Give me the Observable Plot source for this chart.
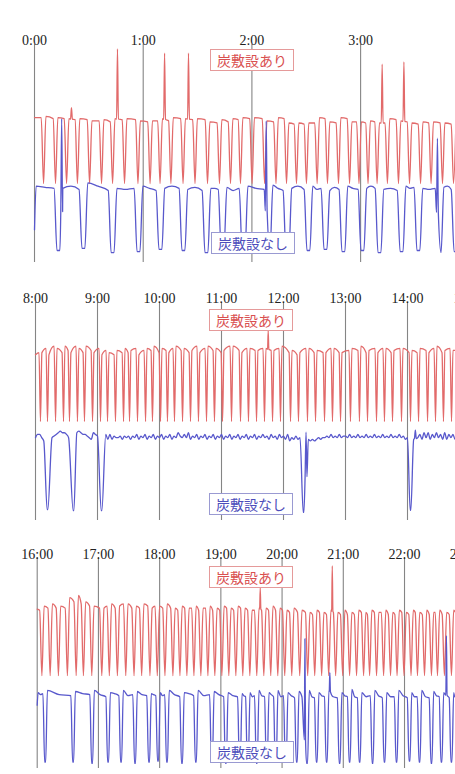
<!DOCTYPE html>
<html>
<head>
<meta charset="utf-8">
<script src="https://cdn.jsdelivr.net/npm/d3@7"></script>
<script src="https://cdn.jsdelivr.net/npm/@observablehq/plot@0.6"></script>
<style>
  html, body { margin: 0; padding: 0; background: #fff; overflow: hidden; }
  #wrap { position: relative; width: 455px; height: 774px; overflow: hidden; }
  #wrap svg { display: block; }
  .lab { position: absolute; box-sizing: border-box; height: 22px; padding: 0 6px; line-height: 20px;
         font-family: "Noto Sans CJK JP", sans-serif; font-size: 14px; background: #fff; white-space: nowrap; }
  .ari { color: #d95050; border: 1px solid #e59a9a; }
  .nashi { color: #4d4dbb; border: 1px solid #9a9ad2; }
</style>
</head>
<body>
<div id="wrap"></div>
<script>
// ---------- legend labels ----------
const seriesLabels = ["炭敷設あり", "炭敷設なし"];

// ---------- panel 1 (0:00 - ) times in minutes ----------
const p1Hours = [0, 1, 2, 3];
const p1RedTroughs = [5.0, 11.6, 17.7, 23.7, 30.4, 37.0, 43.1, 49.7, 57.1, 63.8, 69.3, 75.3, 82.0, 88.6, 95.5, 102.1, 108.2, 113.7, 120.1, 127.0, 133.3, 139.1, 144.6, 150.1, 156.0, 161.7, 167.8, 173.9, 179.1, 184.1, 189.1, 194.8, 200.9, 207.0, 213.1, 218.9, 225.2, 231.3];
const p1RedTops = [[66.5,66.5],[67,66],[66.5,66],[66,65.5],[66,65.5],[65,65],[65.5,64.5],[66,65.5],[66,65.5],[65,64.5],[65,65],[66,65],[66.5,66],[66,65.5],[66,65.5],[64.5,64],[65.5,64.5],[66,65.5],[66.5,66],[66.5,66],[65,64.5],[66.5,66],[64,63.5],[64,63.5],[64,64],[66.5,66],[64.5,64],[66.5,66],[64.5,64.5],[64.5,64],[65,64.5],[64,64],[66,65.5],[65,64.5],[64,63.5],[64.5,64],[64.5,64],[64,63.5],[64,64]];
const p1RedLow = 36.2;
const p1RedSpikes = [[20.4, 71], [45.8, 98], [71.8, 96], [85.0, 96], [191.9, 91], [203.9, 92]];
const p1BlueDips = [13.2, 27.0, 43.1, 57.4, 69.5, 82.2, 94.9, 103.8, 115.4, 129.2, 139.6, 151.2, 160.6, 170.5, 181.0, 190.4, 202.6, 211.9, 223.6, 232.4];
const p1BlueDepth = [5.5, 6.5, 4.5, 5, 6, 5.5, 4.5, 7, 5.5, 5, 4.5, 5.5, 6, 5, 5.5, 4.5, 5, 5.5, 4.5, 5];
const p1BluePlateau = [[35,34.5,34],[34,35,33.5],[36.5,35,33],[34,33.5,34],[35,34,33],[34,35,34],[33.5,34.5,33],[34,34,33.5],[34.5,33,34],[35,34,33.5],[35.5,34,33],[34,35,33.5],[35,33.5,34],[33,34.5,33.5],[35,34,33.5],[34,35,34],[33.5,34,33],[35,34,34.5],[34,33.5,34],[34.5,35,33.5],[34,34,34]];
const p1BlueStart = 15;
const p1BlueSpikes = [[15.0, 66], [127.9, 65], [222.4, 57]];

// ---------- panel 2 (8:00 - ) ----------
const p2Hours = [8, 9, 10, 11, 12, 13, 14, 15];
const p2RedTroughs = [484.8, 491.6, 499.4, 507.1, 512.9, 520.6, 527.4, 535.2, 542.9, 549.7, 557.4, 565.2, 571.0, 578.7, 586.5, 593.2, 601.0, 607.7, 614.5, 622.3, 630.0, 637.7, 645.5, 653.2, 661.0, 669.7, 678.4, 686.1, 693.9, 701.6, 709.4, 717.1, 726.8, 734.5, 743.2, 751.0, 759.7, 767.4, 775.2, 784.8, 793.5, 801.3, 810.0, 817.7, 825.5, 834.2, 842.9, 850.7, 859.4, 867.1, 874.8, 882.6];
const p2RedTops = [[76,77],[77,79],[76,80],[79,77],[80,78],[77,80],[79,77],[80,78],[77,79],[76,78],[77,76],[78,77],[79,77],[78,79],[76,78],[79,78],[80,77],[79,78],[77,79],[80,78],[79,77],[78,80],[77,79],[80,78],[79,77],[78,80],[80,78],[77,79],[79,78],[78,79],[79,78],[78,79],[80,77],[78,76],[77,79],[79,77],[78,77],[77,79],[79,77],[77,78],[79,78],[80,77],[78,79],[77,79],[79,77],[78,79],[79,77],[78,77],[79,78],[77,79],[80,77],[78,79],[78,78]];
const p2RedLow = 45.4;
const p2RedSpikes = [[705.2, 87]];
// blue baseline, one digit every 2 minutes from 8:00 (level = 35 + digit * 0.75)
const p2BlueBaseline = "4664243545" + "6787764345" + "7876654376" + "5454636354" + "4535453546" +
                       "3546354635" + "4635463547" + "5464735463" + "5463546354" + "6354635463" +
                       "5463546354" + "6453645364" + "5362435342" + "2232323434" + "4546454645" +
                       "5464546454" + "6454645464" + "5464546453" + "4393646374" + "7364746373" + "64636";
const p2BlueDips = [491.6, 516.8, 543.9, 739.4, 842.9];
const p2BlueDepth = [5, 4.5, 4.5, 3.7, 4.6];
const p2BlueSpikes = [[741.8, 40.5], [847.6, 41.5]];

// ---------- panel 3 (16:00 - ) ----------
const p3Hours = [16, 17, 18, 19, 20, 21, 22, 23];
const p3RedTroughs = [964.6, 972.7, 980.8, 989.6, 998.2, 1005.3, 1013.5, 1023.3, 1030.7, 1038.6, 1046.8, 1054.9, 1062.4, 1070.5, 1077.7, 1085.2, 1093.0, 1099.9, 1106.7, 1113.6, 1120.4, 1127.3, 1134.1, 1141.0, 1147.8, 1154.7, 1161.5, 1168.4, 1175.2, 1182.1, 1188.9, 1195.8, 1202.6, 1209.5, 1217.3, 1225.1, 1232.0, 1238.8, 1245.7, 1252.5, 1259.4, 1266.2, 1273.0, 1279.9, 1285.8, 1292.6, 1299.5, 1306.3, 1312.7, 1319.5, 1326.4, 1332.7, 1339.6, 1346.4, 1352.3, 1359.1, 1366.0];
const p3RedTops = [[75.5,75],[77,76],[78,76],[77,76],[81,79],[82,78],[79,77],[77,76],
                   [76,77],[78,76],[77,78],[78,76],[77,76],[78,77],[76,77],[77,76],
                   [78,76],[76,75],[77,76],[76,76],[77,75],[76,76],[77,75],[76,75],
                   [77,76],[76,75],[77,76],[76,75],[75,75],[76,75],[76,75],[77,75],[76,75],
                   [75,74],[76,74],[75,74],[74,73],[75,74],[74,73],[75,74],[74,73],[75,73],
                   [74,73],[75,74],[74,73],[75,74],[74,74],[75,73],[74,73],[75,74],[74,73],
                   [75,74],[74,73],[75,73],[74,74],[75,73],[74,73],[75,74]];
const p3RedLow = 44;
const p3RedSpikes = [[1178.6, 85.5], [1249.2, 96]];
const p3BlueDips = [967.8, 995.2, 1013.8, 1029.5, 1042.2, 1055.9, 1069.6, 1078.4, 1087.2, 1101.9, 1115.5, 1131.2, 1144.9, 1158.6, 1166.4, 1175.2, 1185.0, 1193.8, 1203.6, 1214.4, 1224.5, 1233.9, 1243.7, 1256.4, 1266.2, 1276.0, 1288.7, 1300.4, 1312.2, 1324.9, 1334.7, 1346.4, 1356.2, 1366.0];
const p3BlueDepth = [3, 3, 2.5, 3, 3, 2.5, 3, 3.5, 3, 2.5, 3, 3, 2.5, 3, 3, 2.5, 3, 3, 3.5, 3, 2.5, 3, 3, 2.5, 3, 3, 2.5, 3, 3, 3.5, 3, 2.5, 3, 3];
const p3BluePlateau = [[36,35,35.5],[37,35,34.5],[36.5,35.5,35],[37,35,34],[36,35.5,34.5],
                       [37,34.5,35],[36.5,35,34.5],[35.5,35,34.5],[36,34.5,35],[37,35,34],
                       [36,35.5,34.5],[37,34.5,35],[36.5,35,34],[36,34.5,34],[35.5,34.5,34],
                       [36,34,34.5],[37,34.5,34],[36,35,34],[37,34,34.5],[36,34.5,33.5],
                       [36.5,34,34],[37,34,33.5],[36,34.5,34],[37,34,33.5],[36,34.5,34],
                       [37.5,34,33.5],[36,34,34.5],[37,34.5,33.5],[36,34,34],[37,34.5,33.5],
                       [36,34,34],[37,34,33.5],[36.5,34.5,34],[36,34,33.5],[36,34,34]];
const p3BlueStart = 30;
const p3BlueSpikes = [[1222.4, 61.5], [1246.8, 45.5], [1361.1, 63]];

// ---------- builders (turn the read values into polyline tables) ----------
function insertSpikes(pts, spikes, halfW) {
  for (const [t, v] of spikes) {
    const kept = pts.filter(p => Math.abs(p.t - t) > halfW);
    pts.length = 0; pts.push(...kept);
    const sorted = pts.slice().sort((a, b) => a.t - b.t);
    let base = sorted[0].v;
    for (let i = 1; i < sorted.length; i++) {
      if (sorted[i].t >= t) {
        const a = sorted[i - 1], b = sorted[i];
        base = a.v + (b.v - a.v) * (t - a.t) / (b.t - a.t);
        break;
      }
    }
    pts.push({t: t - halfW, v: base}, {t, v}, {t: t + halfW, v: base});
  }
  pts.sort((a, b) => a.t - b.t);
  return pts;
}

function buildRed(troughs, tops, low, t0, t1, rise, fall, spikes, halfW) {
  const pts = [];
  const n = troughs.length;
  for (let i = 0; i <= n; i++) {
    if (i > 0) pts.push({t: troughs[i - 1], v: low});
    const a = i === 0 ? t0 : troughs[i - 1] + rise;
    const b = i === n ? t1 : troughs[i] - fall;
    pts.push({t: a, v: tops[i][0]});
    if (b > a + 0.2) pts.push({t: b, v: tops[i][1]});
  }
  return insertSpikes(pts, spikes, halfW);
}

function buildBlue(dips, depth, plateau, t0, t1, wTop, wBot, startV, spikes, halfW) {
  const pts = [];
  if (startV != null) pts.push({t: t0, v: startV});
  const n = dips.length;
  for (let i = 0; i <= n; i++) {
    const a = i === 0 ? t0 + (startV != null ? 0.9 : 0) : dips[i - 1] + wTop;
    const b = i === n ? t1 : dips[i] - wTop;
    const [A, M, B] = plateau[i];
    pts.push({t: a, v: A});
    if (b - a > 1.2) pts.push({t: (a + b) / 2, v: M});
    if (b > a + 0.2) pts.push({t: b, v: B});
    if (i < n) {
      pts.push({t: dips[i] - wBot, v: depth[i]});
      pts.push({t: dips[i] + wBot, v: depth[i]});
    }
  }
  return insertSpikes(pts, spikes, halfW);
}

function buildBaseline(digits, t0, step, dips, depth, wTop, wBot, spikes, halfW) {
  let pts = Array.from(digits, (c, k) => ({t: t0 + k * step, v: 35 + (+c) * 0.75}));
  dips.forEach((d, i) => {
    pts = pts.filter(p => Math.abs(p.t - d) >= wTop);
    pts.push({t: d - wBot, v: depth[i]}, {t: d + wBot, v: depth[i]});
  });
  pts.sort((a, b) => a.t - b.t);
  return insertSpikes(pts, spikes, halfW);
}

const p1Red = buildRed(p1RedTroughs, p1RedTops, p1RedLow, 0, 232.5, 1.3, 1.3, p1RedSpikes, 0.5);
const p1Blue = buildBlue(p1BlueDips, p1BlueDepth, p1BluePlateau, 0, 232.5, 2.4, 0.8, p1BlueStart, p1BlueSpikes, 0.5);
const p2Red = buildRed(p2RedTroughs, p2RedTops, p2RedLow, 480, 887, 1.4, 1.4, p2RedSpikes, 0.6);
const p2Blue = buildBaseline(p2BlueBaseline, 480, 2, p2BlueDips, p2BlueDepth, 2.8, 0.3, p2BlueSpikes, 0.9);
const p3Red = buildRed(p3RedTroughs, p3RedTops, p3RedLow, 960, 1370, 2.2, 2.2, p3RedSpikes, 0.6);
const p3Blue = buildBlue(p3BlueDips, p3BlueDepth, p3BluePlateau, 960, 1370, 2.2, 0.5, p3BlueStart, p3BlueSpikes, 0.6);

// ---------- drawing ----------
const RED = "#e26a6a", BLUE = "#5858cc", GRID = "#858585";

function panel({hours, domain, red, blue, height, mt, mb, labelDy}) {
  return Plot.plot({
    width: 455, height,
    marginLeft: 0, marginRight: 0, marginTop: mt, marginBottom: mb,
    x: {domain, axis: null},
    y: {domain: [0, 100], axis: null},
    style: {overflow: "visible", background: "transparent"},
    marks: [
      Plot.ruleX(hours, {x: h => h * 60, stroke: GRID, strokeWidth: 1.1}),
      Plot.line(red, {x: "t", y: "v", stroke: RED, strokeWidth: 1.3, curve: "monotone-x"}),
      Plot.line(blue, {x: "t", y: "v", stroke: BLUE, strokeWidth: 1.3, curve: "monotone-x"}),
      Plot.text(hours, {x: h => h * 60, text: h => `${h}:00`, frameAnchor: "top", dy: labelDy,
                        fontSize: 14, fontFamily: "Liberation Serif, serif", fill: "#222"})
    ]
  });
}

const wrap = document.getElementById("wrap");
wrap.append(panel({hours: p1Hours, domain: [-18.77, 232.38], red: p1Red, blue: p1Blue, height: 270, mt: 44, mb: 8, labelDy: -9}));
wrap.append(panel({hours: p2Hours, domain: [446.13, 886.45], red: p2Red, blue: p2Blue, height: 258, mt: 32, mb: 8, labelDy: -9}));
wrap.append(panel({hours: p3Hours, domain: [924.03, 1369.97], red: p3Red, blue: p3Blue, height: 246, mt: 29, mb: 6, labelDy: -8}));

// legend-style labels
const labelPos = [
  [210, 49, 0], [211, 232, 1],
  [209, 309, 0], [209, 493, 1],
  [209, 566, 0], [210, 741, 1]
];
for (const [left, top, k] of labelPos) {
  const d = document.createElement("div");
  d.className = "lab " + (k === 0 ? "ari" : "nashi");
  d.style.left = left + "px";
  d.style.top = top + "px";
  d.textContent = seriesLabels[k];
  wrap.append(d);
}
</script>
</body>
</html>
